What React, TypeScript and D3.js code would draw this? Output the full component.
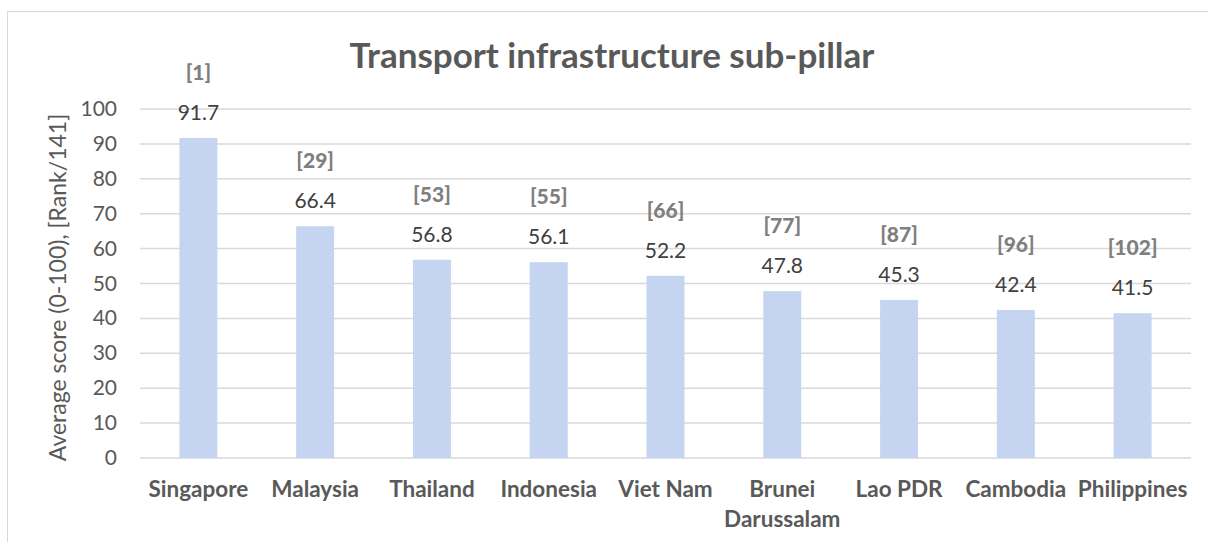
import React from "react";
import * as d3 from "d3";

const categories = ["Singapore", "Malaysia", "Thailand", "Indonesia", "Viet Nam", "Brunei Darussalam", "Lao PDR", "Cambodia", "Philippines"];
const scores = [91.7, 66.4, 56.8, 56.1, 52.2, 47.8, 45.3, 42.4, 41.5];
const ranks = [1, 29, 53, 55, 66, 77, 87, 96, 102];
const yTicks = [0, 10, 20, 30, 40, 50, 60, 70, 80, 90, 100];

const W = 1208, H = 542;
const left = 140, right = 1191, top = 109, bottom = 458;
const FONT = "Lato, 'Open Sans', sans-serif";

export default function App() {
  const x = d3.scaleBand<string>().domain(categories).range([left, right]).paddingInner(0.675).paddingOuter(0.3375);
  const y = d3.scaleLinear().domain([0, 100]).range([bottom, top]);
  const bw = x.bandwidth();
  return (
    <svg width={W} height={H} style={{ position: "absolute", left: 0, top: 0, background: "#fff" }}>
      <rect x={7.5} y={11.5} width={W + 10} height={H + 10} fill="#fff" stroke="#D9D9D9" strokeWidth={1} />
      <text x={612} y={68} textAnchor="middle" fontFamily={FONT} fontWeight={700} fontSize={35} fill="#595959">Transport infrastructure sub-pillar</text>
      {yTicks.map(t => (
        <g key={t}>
          <line x1={left} x2={right} y1={y(t)} y2={y(t)} stroke="#D9D9D9" strokeWidth={1.5} />
          <text x={117} y={y(t) + 7} textAnchor="end" fontFamily={FONT} fontSize={21} fill="#595959">{t}</text>
        </g>
      ))}
      <text transform={`translate(66,${(top + bottom) / 2 + 4}) rotate(-90)`} textAnchor="middle" fontFamily={FONT} fontSize={23} fill="#595959">Average score (0-100), [Rank/141]</text>
      {categories.map((c, i) => {
        const cx = (x(c) as number) + bw / 2;
        const yt = y(scores[i]);
        const words = c === "Brunei Darussalam" ? ["Brunei", "Darussalam"] : [c];
        return (
          <g key={c}>
            <rect x={x(c)} y={yt} width={bw} height={bottom - yt} fill="#C5D4F1" />
            <text x={cx} y={yt - 18} textAnchor="middle" fontFamily={FONT} fontSize={21} fill="#404040">{scores[i].toFixed(1)}</text>
            <text x={cx} y={yt - 58} textAnchor="middle" fontFamily={FONT} fontWeight={900} fontSize={21} fill="#7F7F7F">[{ranks[i]}]</text>
            {words.map((w, j) => (
              <text key={w} x={cx} y={497 + j * 30} textAnchor="middle" fontFamily={FONT} fontWeight={700} fontSize={22.5} fill="#595959">{w}</text>
            ))}
          </g>
        );
      })}
    </svg>
  );
}
